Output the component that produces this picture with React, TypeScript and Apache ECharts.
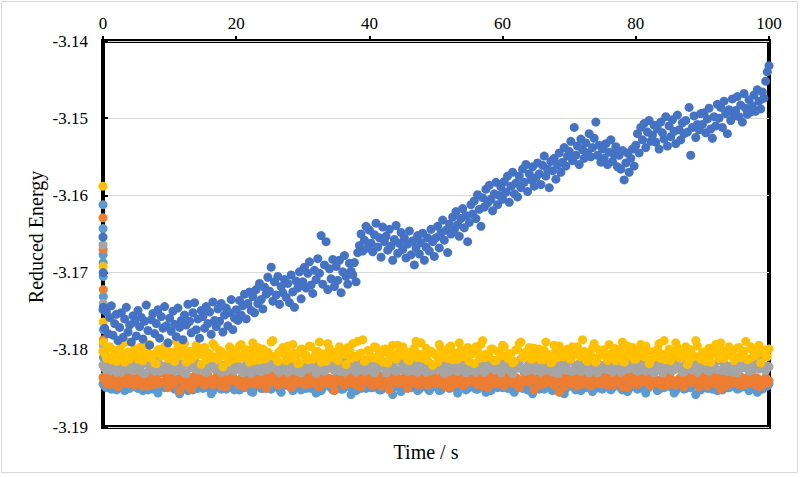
import React, { useEffect, useRef } from "react";
import * as echarts from "echarts";

// Axis ranges and ticks
const timeMin = 0;
const timeMax = 100;
const timeInterval = 20;
const energyMin = -3.19;
const energyMax = -3.14;
const energyInterval = 0.01;

// Sampling of the recorded trajectories
const darkBlueStep = 0.25;
const bandStep = 0.5;
const bandOffsetB = 0.25;

// Fast relaxation right after start (time, energy)
const darkBlueStartTimes = [0, 0.03, 0.06];
const darkBlueStart = [-3.1654, -3.17, -3.1745];
const lightBlueStartTimes = [0, 0.01, 0.02, 0.03, 0.04, 0.05, 0.06, 0.07, 0.08];
const lightBlueStart = [-3.1612, -3.1643, -3.1677, -3.1687, -3.1705, -3.1731, -3.1774, -3.181, -3.1835];
const orangeStartTimes = [0, 0.02, 0.04, 0.06, 0.08];
const orangeStart = [-3.1629, -3.167, -3.1722, -3.1787, -3.182];
const grayStartTimes = [0, 0.03, 0.06];
const grayStart = [-3.1664, -3.174, -3.1795];
const yellowStartTimes = [0, 0.02, 0.04, 0.06];
const yellowStart = [-3.1588, -3.1692, -3.1764, -3.179];

// Drifting run
const darkBlue = [
  -3.1748, -3.1772, -3.1751, -3.1779, -3.1758, -3.1743, -3.1781, -3.1766, -3.1754, -3.1788,
  -3.1771, -3.1752, -3.1784, -3.176, -3.1745, -3.1777, -3.1768, -3.179, -3.1756, -3.1764,
  -3.1782, -3.1749, -3.177, -3.1758, -3.1786, -3.1763, -3.1742, -3.1775, -3.1794, -3.1761,
  -3.1753, -3.1779, -3.1766, -3.1748, -3.1785, -3.1757, -3.1772, -3.1744, -3.1769, -3.1791,
  -3.1759, -3.1776, -3.175, -3.1767, -3.1783, -3.1746, -3.1771, -3.1762, -3.1787, -3.1755,
  -3.1768, -3.1741, -3.1763, -3.1778, -3.1752, -3.1739, -3.1774, -3.176, -3.1785, -3.1749,
  -3.1757, -3.1772, -3.1744, -3.1766, -3.1751, -3.178, -3.1738, -3.1762, -3.177, -3.1747,
  -3.1763, -3.174, -3.1777, -3.1755, -3.1746, -3.1769, -3.1752, -3.1735, -3.1774, -3.1759,
  -3.1748, -3.1762, -3.1736, -3.1755, -3.1743, -3.1728, -3.176, -3.174, -3.1725, -3.1749,
  -3.1731, -3.1752, -3.1722, -3.174, -3.1714, -3.1735, -3.1747, -3.1719, -3.1728, -3.1706,
  -3.1724, -3.1693, -3.1737, -3.1712, -3.1729, -3.1705, -3.1741, -3.1718, -3.1726, -3.1709,
  -3.1732, -3.1714, -3.1739, -3.1703, -3.1725, -3.1745, -3.1711, -3.172, -3.1699, -3.1734,
  -3.1712, -3.1693, -3.172, -3.1701, -3.1686, -3.1716, -3.1727, -3.1697, -3.1709, -3.1682,
  -3.1701, -3.1652, -3.1715, -3.169, -3.166, -3.1722, -3.1695, -3.1708, -3.1683, -3.1718,
  -3.1692, -3.171, -3.1684, -3.1726, -3.1699, -3.1678, -3.1705, -3.1715, -3.1688, -3.1698,
  -3.1703, -3.1687, -3.1712, -3.1674, -3.1665, -3.165, -3.1672, -3.1658, -3.164, -3.1668,
  -3.1645, -3.1662, -3.1673, -3.1651, -3.1636, -3.1667, -3.1655, -3.168, -3.1641, -3.166,
  -3.1653, -3.1671, -3.1644, -3.1666, -3.1684, -3.1657, -3.1639, -3.1675, -3.1662, -3.1648,
  -3.167, -3.1655, -3.1681, -3.1663, -3.1646, -3.1677, -3.1659, -3.169, -3.1668, -3.1652,
  -3.1676, -3.1661, -3.1649, -3.1684, -3.1667, -3.1655, -3.1672, -3.1644, -3.166, -3.1679,
  -3.1655, -3.164, -3.1668, -3.1649, -3.1632, -3.1658, -3.1645, -3.1674, -3.1637, -3.165,
  -3.1628, -3.1645, -3.1621, -3.1638, -3.1653, -3.163, -3.1617, -3.1642, -3.1626, -3.166,
  -3.1635, -3.1612, -3.1624, -3.1607, -3.163, -3.1599, -3.1618, -3.164, -3.1603, -3.1615,
  -3.1592, -3.161, -3.1587, -3.1605, -3.162, -3.1598, -3.1583, -3.1612, -3.16, -3.1589,
  -3.1605, -3.1582, -3.1596, -3.1575, -3.1609, -3.1588, -3.157, -3.1598, -3.1584, -3.1602,
  -3.1575, -3.159, -3.1566, -3.1583, -3.156, -3.1595, -3.1572, -3.158, -3.1563, -3.1588,
  -3.1577, -3.1558, -3.1572, -3.1586, -3.1561, -3.1549, -3.1575, -3.1566, -3.159, -3.1556,
  -3.1568, -3.1552, -3.1579, -3.156, -3.1545, -3.157, -3.1557, -3.1538, -3.1562, -3.1549,
  -3.1543, -3.153, -3.1555, -3.1512, -3.1548, -3.1536, -3.156, -3.1527, -3.1541, -3.1552,
  -3.1532, -3.1545, -3.152, -3.155, -3.1538, -3.1526, -3.1505, -3.1548, -3.1535, -3.1557,
  -3.154, -3.1552, -3.1533, -3.156, -3.1544, -3.1528, -3.1556, -3.1547, -3.1537, -3.1563,
  -3.1548, -3.1566, -3.1542, -3.158, -3.1558, -3.1545, -3.157, -3.1552, -3.154, -3.1562,
  -3.1535, -3.152, -3.1545, -3.1512, -3.1528, -3.1507, -3.1538, -3.1518, -3.1503, -3.153,
  -3.1522, -3.1509, -3.1531, -3.1514, -3.154, -3.1505, -3.1519, -3.1527, -3.1498, -3.1536,
  -3.151, -3.1524, -3.1502, -3.1517, -3.1533, -3.1496, -3.1515, -3.1528, -3.1506, -3.152,
  -3.1503, -3.1518, -3.1486, -3.1548, -3.1512, -3.1497, -3.1525, -3.1508, -3.1515, -3.1494,
  -3.1508, -3.1493, -3.1519, -3.1501, -3.1487, -3.1514, -3.1526, -3.1498, -3.151, -3.1482,
  -3.15, -3.1486, -3.1512, -3.1478, -3.1494, -3.152, -3.1489, -3.1503, -3.1475, -3.1497,
  -3.149, -3.1472, -3.1498, -3.1483, -3.1505, -3.1468, -3.1487, -3.1495, -3.1476, -3.1492,
  -3.1484, -3.147, -3.1491, -3.1463, -3.1478, -3.1488, -3.1466, -3.1474, -3.1452, -3.144,
  -3.1432,
];

// Steady runs: samples on the whole-step grid (A) and the half-step grid (B)
const yellowA = [
  -3.1802, -3.1811, -3.1796, -3.1808, -3.1815, -3.1799, -3.1806, -3.179, -3.1812, -3.1803,
  -3.1809, -3.1797, -3.1814, -3.1801, -3.1793, -3.1807, -3.1818, -3.18, -3.1805, -3.1795,
  -3.1811, -3.1804, -3.1789, -3.1808, -3.1799, -3.1816, -3.1802, -3.181, -3.1794, -3.1806,
  -3.1798, -3.1813, -3.1805, -3.1792, -3.1809, -3.1801, -3.1822, -3.1807, -3.1796, -3.1812,
  -3.1803, -3.1795, -3.181, -3.18, -3.1816, -3.1791, -3.1806, -3.1813, -3.1799, -3.1804,
  -3.1808, -3.1788, -3.1811, -3.1802, -3.1797, -3.1814, -3.1805, -3.1793, -3.1809, -3.1817,
  -3.18, -3.1807, -3.1795, -3.1812, -3.1803, -3.179, -3.1808, -3.1815, -3.1798, -3.1805,
  -3.1811, -3.1796, -3.1804, -3.1819, -3.1801, -3.1792, -3.1809, -3.1806, -3.1787, -3.1813,
  -3.1802, -3.181, -3.1797, -3.1805, -3.1816, -3.1799, -3.1807, -3.1794, -3.1812, -3.1803,
  -3.1796, -3.1809, -3.1814, -3.1801, -3.1789, -3.1806, -3.1811, -3.1798, -3.1804, -3.182,
  -3.1807, -3.1793, -3.181, -3.1802, -3.1797, -3.1813, -3.1805, -3.1791, -3.1808, -3.18,
  -3.1815, -3.1803, -3.1796, -3.1811, -3.1788, -3.1806, -3.1809, -3.1799, -3.1814, -3.1802,
  -3.1794, -3.1808, -3.1805, -3.1817, -3.18, -3.1792, -3.181, -3.1803, -3.1797, -3.1812,
  -3.1806, -3.1799, -3.1813, -3.179, -3.1807, -3.1815, -3.1801, -3.1795, -3.1809, -3.1804,
  -3.1811, -3.1796, -3.1802, -3.1808, -3.1787, -3.1812, -3.1805, -3.1798, -3.1816, -3.18,
  -3.1803, -3.1809, -3.1793, -3.1806, -3.1814, -3.1799, -3.179, -3.181, -3.1804, -3.1797,
  -3.1812, -3.1801, -3.1807, -3.1795, -3.1818, -3.1803, -3.1809, -3.1792, -3.1806, -3.1813,
  -3.1799, -3.1805, -3.1791, -3.181, -3.1802, -3.1796, -3.1814, -3.1807, -3.1788, -3.1809,
  -3.1804, -3.1815, -3.1798, -3.1806, -3.1793, -3.1811, -3.1801, -3.1808, -3.1796, -3.1803,
  -3.181, -3.1797, -3.1805, -3.1789, -3.1812, -3.18, -3.1807, -3.1794, -3.1802, -3.1808,
  -3.1799,
];
const yellowB = [
  -3.1805, -3.1798, -3.1813, -3.1801, -3.1809, -3.1794, -3.1816, -3.1803, -3.1807, -3.1799,
  -3.1812, -3.1804, -3.1791, -3.181, -3.1806, -3.1817, -3.18, -3.1808, -3.1796, -3.1811,
  -3.1803, -3.1815, -3.1798, -3.1806, -3.1792, -3.1809, -3.1812, -3.1801, -3.1807, -3.1819,
  -3.1797, -3.1804, -3.181, -3.1795, -3.1813, -3.1802, -3.1808, -3.1816, -3.1799, -3.1806,
  -3.1811, -3.1793, -3.1805, -3.1809, -3.18, -3.1814, -3.1797, -3.1807, -3.1812, -3.1803,
  -3.179, -3.1808, -3.1815, -3.1801, -3.1806, -3.1795, -3.1811, -3.1804, -3.1818, -3.1799,
  -3.1807, -3.1813, -3.1796, -3.1809, -3.1802, -3.1816, -3.1805, -3.1792, -3.181, -3.1803,
  -3.1814, -3.18, -3.1806, -3.1797, -3.1811, -3.1808, -3.1789, -3.1804, -3.1815, -3.1801,
  -3.1809, -3.1796, -3.1812, -3.1805, -3.1799, -3.1817, -3.1803, -3.181, -3.1794, -3.1807,
  -3.1801, -3.1813, -3.1806, -3.1798, -3.181, -3.1791, -3.1808, -3.1814, -3.1802, -3.1805,
  -3.1816, -3.1799, -3.1807, -3.1811, -3.1795, -3.1804, -3.1812, -3.18, -3.1809, -3.1797,
  -3.1806, -3.1818, -3.1803, -3.1793, -3.181, -3.1807, -3.1799, -3.1814, -3.1802, -3.1808,
  -3.1796, -3.1811, -3.1805, -3.1815, -3.18, -3.179, -3.1809, -3.1804, -3.1812, -3.1798,
  -3.1807, -3.1813, -3.1801, -3.1806, -3.1817, -3.1794, -3.181, -3.1803, -3.1808, -3.1799,
  -3.1812, -3.1805, -3.1796, -3.1809, -3.1802, -3.1815, -3.1807, -3.1792, -3.1811, -3.1804,
  -3.18, -3.1814, -3.1806, -3.1798, -3.181, -3.1803, -3.1816, -3.1795, -3.1808, -3.1812,
  -3.1805, -3.1793, -3.1809, -3.1801, -3.1813, -3.1807, -3.1799, -3.1811, -3.1788, -3.1806,
  -3.1814, -3.1802, -3.1797, -3.181, -3.1805, -3.1819, -3.18, -3.1808, -3.1795, -3.1812,
  -3.1803, -3.1809, -3.1816, -3.1799, -3.1806, -3.1791, -3.1811, -3.1804, -3.1807, -3.1814,
  -3.1798, -3.181, -3.1802, -3.1813, -3.1796, -3.1808, -3.1805, -3.1817, -3.18, -3.1809,
];

const grayA = [
  -3.182, -3.1826, -3.1815, -3.1823, -3.1829, -3.1818, -3.1824, -3.1813, -3.1821, -3.1827,
  -3.1817, -3.1822, -3.183, -3.1816, -3.1825, -3.1819, -3.1812, -3.1828, -3.1821, -3.1824,
  -3.1826, -3.1814, -3.182, -3.1827, -3.1818, -3.1831, -3.1822, -3.1815, -3.1825, -3.1819,
  -3.1823, -3.1829, -3.1817, -3.1821, -3.1813, -3.1826, -3.182, -3.1828, -3.1816, -3.1822,
  -3.1818, -3.1825, -3.183, -3.1819, -3.1823, -3.1814, -3.1827, -3.1821, -3.1811, -3.1826,
  -3.1822, -3.1816, -3.1824, -3.1829, -3.182, -3.1825, -3.1813, -3.1819, -3.1828, -3.1817,
  -3.1827, -3.1821, -3.1815, -3.1823, -3.1831, -3.1818, -3.1822, -3.1826, -3.1814, -3.182,
  -3.1819, -3.1828, -3.1822, -3.1812, -3.1825, -3.182, -3.1829, -3.1816, -3.1823, -3.1827,
  -3.1824, -3.1817, -3.1826, -3.1821, -3.1815, -3.183, -3.1819, -3.1823, -3.1828, -3.1813,
  -3.182, -3.1825, -3.1818, -3.1827, -3.1822, -3.1814, -3.1826, -3.1829, -3.1817, -3.1821,
  -3.1826, -3.1819, -3.1823, -3.1815, -3.1828, -3.1821, -3.1812, -3.1825, -3.182, -3.183,
  -3.1818, -3.1824, -3.1829, -3.182, -3.1816, -3.1827, -3.1822, -3.1819, -3.1825, -3.1814,
  -3.1823, -3.1817, -3.1826, -3.1831, -3.1821, -3.1815, -3.1824, -3.1828, -3.1818, -3.1822,
  -3.1827, -3.182, -3.1813, -3.1825, -3.1819, -3.1829, -3.1823, -3.1816, -3.1826, -3.1821,
  -3.1815, -3.1828, -3.1822, -3.1818, -3.1826, -3.182, -3.183, -3.1824, -3.1817, -3.1823,
  -3.1821, -3.1825, -3.1816, -3.1829, -3.1822, -3.1812, -3.1827, -3.182, -3.1824, -3.1818,
  -3.1826, -3.1819, -3.1823, -3.1828, -3.1815, -3.1822, -3.1825, -3.1817, -3.183, -3.1821,
  -3.182, -3.1827, -3.1814, -3.1824, -3.1829, -3.1818, -3.1822, -3.1826, -3.1819, -3.1825,
  -3.1823, -3.1816, -3.1828, -3.1821, -3.1825, -3.1813, -3.1827, -3.182, -3.1824, -3.1829,
  -3.1818, -3.1826, -3.1822, -3.1815, -3.1828, -3.1823, -3.1819, -3.1825, -3.1821, -3.1827,
  -3.1822,
];
const grayB = [
  -3.1824, -3.1819, -3.1827, -3.1815, -3.1822, -3.1829, -3.1818, -3.1825, -3.1821, -3.1813,
  -3.1826, -3.182, -3.1831, -3.1817, -3.1823, -3.1828, -3.1814, -3.1822, -3.1826, -3.1819,
  -3.1821, -3.1827, -3.1816, -3.1824, -3.183, -3.1818, -3.1823, -3.1812, -3.1826, -3.182,
  -3.1828, -3.1815, -3.1822, -3.1825, -3.1819, -3.1829, -3.1821, -3.1817, -3.1824, -3.1827,
  -3.1813, -3.1823, -3.1826, -3.182, -3.1831, -3.1816, -3.1822, -3.1828, -3.1818, -3.1825,
  -3.1821, -3.1814, -3.1827, -3.1823, -3.1819, -3.1829, -3.1824, -3.1816, -3.1822, -3.183,
  -3.1818, -3.1825, -3.1821, -3.1812, -3.1826, -3.182, -3.1828, -3.1817, -3.1823, -3.1827,
  -3.1822, -3.1815, -3.1829, -3.1824, -3.1819, -3.1826, -3.1813, -3.1821, -3.1828, -3.1818,
  -3.1825, -3.183, -3.182, -3.1816, -3.1823, -3.1827, -3.1819, -3.1824, -3.1814, -3.1826,
  -3.1821, -3.1828, -3.1817, -3.1822, -3.1829, -3.1815, -3.1825, -3.182, -3.1827, -3.1823,
  -3.1818, -3.1826, -3.1831, -3.1821, -3.1814, -3.1824, -3.1828, -3.1819, -3.1822, -3.1816,
  -3.1827, -3.182, -3.1825, -3.1813, -3.1829, -3.1823, -3.1818, -3.1826, -3.1821, -3.183,
  -3.1815, -3.1822, -3.1827, -3.1819, -3.1824, -3.1812, -3.1828, -3.1821, -3.1825, -3.1817,
  -3.1823, -3.1829, -3.1816, -3.1826, -3.182, -3.1824, -3.1831, -3.1818, -3.1822, -3.1827,
  -3.1814, -3.1825, -3.1821, -3.1828, -3.1819, -3.1823, -3.1815, -3.1826, -3.183, -3.182,
  -3.1824, -3.1817, -3.1827, -3.1822, -3.1813, -3.1829, -3.1821, -3.1825, -3.1818, -3.1823,
  -3.1828, -3.182, -3.1816, -3.1826, -3.1822, -3.183, -3.1819, -3.1824, -3.1827, -3.1815,
  -3.1821, -3.1826, -3.1813, -3.1823, -3.1828, -3.1818, -3.1825, -3.182, -3.1829, -3.1822,
  -3.1817, -3.1827, -3.1824, -3.1819, -3.1826, -3.1814, -3.1822, -3.1828, -3.1821, -3.1825,
  -3.183, -3.1818, -3.1823, -3.1816, -3.1827, -3.182, -3.1825, -3.1812, -3.1824, -3.1821,
];

const orangeA = [
  -3.1836, -3.1843, -3.1831, -3.184, -3.1846, -3.1834, -3.1839, -3.1829, -3.1844, -3.1837,
  -3.1841, -3.1833, -3.1847, -3.1838, -3.1832, -3.1845, -3.1836, -3.1842, -3.183, -3.184,
  -3.1835, -3.1844, -3.1839, -3.1853, -3.1833, -3.1841, -3.1837, -3.1846, -3.1834, -3.1839,
  -3.1843, -3.183, -3.1838, -3.1845, -3.1836, -3.1842, -3.1832, -3.1848, -3.1837, -3.1835,
  -3.184, -3.1846, -3.1834, -3.1839, -3.1831, -3.1844, -3.1838, -3.1835, -3.1842, -3.185,
  -3.1833, -3.1841, -3.1837, -3.1845, -3.183, -3.1839, -3.1847, -3.1836, -3.1843, -3.1834,
  -3.1838, -3.1832, -3.1844, -3.184, -3.1835, -3.1848, -3.1833, -3.1841, -3.1837, -3.1845,
  -3.1842, -3.1836, -3.1831, -3.1843, -3.1839, -3.1834, -3.1846, -3.1838, -3.1829, -3.1841,
  -3.1835, -3.1847, -3.184, -3.1833, -3.1844, -3.1837, -3.1852, -3.1839, -3.1832, -3.1843,
  -3.1838, -3.1834, -3.1845, -3.1841, -3.183, -3.1846, -3.1836, -3.1842, -3.1839, -3.1833,
  -3.1844, -3.1837, -3.1832, -3.1848, -3.184, -3.1835, -3.1843, -3.1831, -3.1846, -3.1838,
  -3.1836, -3.1842, -3.1839, -3.1833, -3.1847, -3.1841, -3.1834, -3.1844, -3.1837, -3.183,
  -3.1845, -3.1838, -3.1831, -3.1843, -3.1836, -3.1849, -3.184, -3.1835, -3.1842, -3.1839,
  -3.1833, -3.1846, -3.1841, -3.1837, -3.1832, -3.1844, -3.1838, -3.1855, -3.184, -3.1834,
  -3.1839, -3.1835, -3.1847, -3.1842, -3.1836, -3.183, -3.1845, -3.1838, -3.1843, -3.1837,
  -3.1841, -3.1833, -3.1838, -3.1846, -3.1834, -3.184, -3.1848, -3.1836, -3.1831, -3.1844,
  -3.1837, -3.1843, -3.1835, -3.184, -3.1845, -3.1832, -3.1839, -3.1842, -3.1847, -3.1836,
  -3.1834, -3.184, -3.1846, -3.1838, -3.1831, -3.1843, -3.1837, -3.1841, -3.1835, -3.1848,
  -3.1842, -3.1836, -3.1839, -3.1833, -3.1844, -3.184, -3.183, -3.1847, -3.1838, -3.1841,
  -3.1835, -3.1845, -3.184, -3.1837, -3.1842, -3.1834, -3.1846, -3.1839, -3.1843, -3.1836,
  -3.184,
];
const orangeB = [
  -3.1839, -3.1845, -3.1834, -3.1841, -3.1848, -3.1836, -3.1843, -3.1831, -3.184, -3.1846,
  -3.1837, -3.1842, -3.1833, -3.1847, -3.1839, -3.1835, -3.1844, -3.183, -3.1841, -3.1849,
  -3.1836, -3.1843, -3.1838, -3.1832, -3.1845, -3.184, -3.1851, -3.1834, -3.1842, -3.1837,
  -3.1846, -3.1833, -3.1839, -3.1844, -3.1831, -3.1847, -3.1838, -3.1842, -3.1835, -3.184,
  -3.1843, -3.1837, -3.1848, -3.1834, -3.1841, -3.183, -3.1845, -3.1839, -3.1836, -3.1844,
  -3.184, -3.1832, -3.1846, -3.1838, -3.1843, -3.1835, -3.1849, -3.1841, -3.1833, -3.1839,
  -3.1845, -3.1837, -3.1842, -3.183, -3.1847, -3.184, -3.1835, -3.1844, -3.1838, -3.1853,
  -3.1834, -3.1841, -3.1846, -3.1836, -3.1843, -3.1839, -3.1832, -3.1848, -3.184, -3.1837,
  -3.1844, -3.1831, -3.1842, -3.1847, -3.1835, -3.184, -3.1845, -3.1833, -3.1839, -3.1843,
  -3.1836, -3.185, -3.1838, -3.1834, -3.1845, -3.1841, -3.183, -3.1846, -3.1837, -3.1842,
  -3.1839, -3.1844, -3.1832, -3.184, -3.1848, -3.1835, -3.1843, -3.1838, -3.1846, -3.1833,
  -3.1841, -3.1837, -3.1845, -3.1831, -3.1842, -3.1849, -3.1836, -3.184, -3.1844, -3.1834,
  -3.1847, -3.1839, -3.1833, -3.1843, -3.1838, -3.1845, -3.183, -3.1841, -3.1836, -3.1852,
  -3.184, -3.1835, -3.1844, -3.1839, -3.1832, -3.1846, -3.1842, -3.1837, -3.1848, -3.1834,
  -3.1843, -3.1838, -3.1831, -3.1845, -3.184, -3.1836, -3.1847, -3.1841, -3.1833, -3.1844,
  -3.1839, -3.1846, -3.1835, -3.1842, -3.183, -3.1843, -3.1837, -3.1849, -3.184, -3.1834,
  -3.1845, -3.1832, -3.1841, -3.1838, -3.1847, -3.1836, -3.1843, -3.1839, -3.1831, -3.1846,
  -3.1837, -3.1844, -3.184, -3.1835, -3.1848, -3.1833, -3.1842, -3.1838, -3.1845, -3.1841,
  -3.1834, -3.1847, -3.1839, -3.1843, -3.1836, -3.1851, -3.184, -3.1832, -3.1844, -3.1838,
  -3.1842, -3.1835, -3.1846, -3.184, -3.1833, -3.1844, -3.1837, -3.1848, -3.1839, -3.1843,
];

const lightBlueA = [
  -3.1844, -3.1849, -3.184, -3.1846, -3.1852, -3.1842, -3.1847, -3.1839, -3.185, -3.1845,
  -3.1848, -3.1841, -3.1853, -3.1845, -3.1838, -3.1851, -3.1843, -3.1849, -3.1846, -3.184,
  -3.1847, -3.1843, -3.185, -3.1857, -3.1844, -3.1848, -3.1841, -3.1852, -3.1845, -3.1839,
  -3.185, -3.1842, -3.1846, -3.1853, -3.184, -3.1847, -3.1844, -3.1851, -3.1838, -3.1849,
  -3.1843, -3.1852, -3.1845, -3.1841, -3.1848, -3.1855, -3.1842, -3.1846, -3.185, -3.1844,
  -3.1849, -3.184, -3.1847, -3.1851, -3.1843, -3.1846, -3.1839, -3.1853, -3.1845, -3.1848,
  -3.1842, -3.185, -3.1844, -3.1847, -3.1856, -3.1841, -3.1849, -3.1845, -3.184, -3.1852,
  -3.1846, -3.1843, -3.1851, -3.1839, -3.1848, -3.1845, -3.1853, -3.1842, -3.1847, -3.185,
  -3.1841, -3.1849, -3.1844, -3.1852, -3.1846, -3.184, -3.1848, -3.1858, -3.1843, -3.1847,
  -3.185, -3.1845, -3.1839, -3.1848, -3.1842, -3.1851, -3.1846, -3.1844, -3.1853, -3.1841,
  -3.1847, -3.1853, -3.1843, -3.1845, -3.185, -3.1838, -3.1849, -3.1844, -3.1846, -3.1852,
  -3.184, -3.1848, -3.1851, -3.1843, -3.1847, -3.1855, -3.1842, -3.1849, -3.1845, -3.1841,
  -3.1849, -3.1844, -3.184, -3.1852, -3.1846, -3.1843, -3.185, -3.1839, -3.1848, -3.1857,
  -3.1845, -3.1851, -3.1847, -3.1842, -3.1849, -3.1853, -3.1841, -3.1846, -3.1844, -3.185,
  -3.1843, -3.1847, -3.1852, -3.184, -3.1845, -3.1849, -3.1846, -3.1854, -3.1842, -3.1848,
  -3.1851, -3.1841, -3.1846, -3.1849, -3.1839, -3.1847, -3.1852, -3.1844, -3.185, -3.1843,
  -3.1846, -3.185, -3.1842, -3.1856, -3.1848, -3.1844, -3.184, -3.1851, -3.1847, -3.1845,
  -3.1842, -3.1849, -3.1853, -3.1845, -3.1841, -3.185, -3.1847, -3.1843, -3.1858, -3.1846,
  -3.1848, -3.1843, -3.1847, -3.1851, -3.1844, -3.184, -3.1852, -3.1846, -3.1849, -3.1842,
  -3.1845, -3.185, -3.1841, -3.1847, -3.1853, -3.1844, -3.1848, -3.1839, -3.1851, -3.1846,
  -3.1844,
];
const lightBlueB = [
  -3.1847, -3.1842, -3.1851, -3.1845, -3.184, -3.1849, -3.1853, -3.1844, -3.1848, -3.1841,
  -3.185, -3.1846, -3.1839, -3.1852, -3.1847, -3.1843, -3.1856, -3.1845, -3.1849, -3.1842,
  -3.1848, -3.1851, -3.1844, -3.184, -3.1847, -3.1853, -3.1846, -3.1841, -3.185, -3.1845,
  -3.1843, -3.1849, -3.1857, -3.1846, -3.1842, -3.1851, -3.1848, -3.184, -3.1847, -3.1852,
  -3.1845, -3.1841, -3.1849, -3.1844, -3.1854, -3.1847, -3.1839, -3.185, -3.1846, -3.1843,
  -3.1851, -3.1848, -3.1842, -3.1855, -3.1845, -3.184, -3.1849, -3.1847, -3.1844, -3.1852,
  -3.1846, -3.1841, -3.185, -3.1843, -3.1848, -3.1853, -3.1845, -3.1839, -3.1849, -3.1846,
  -3.1842, -3.1851, -3.1847, -3.1844, -3.1858, -3.1848, -3.1841, -3.185, -3.1845, -3.1843,
  -3.1849, -3.1846, -3.184, -3.1852, -3.1847, -3.1844, -3.1851, -3.1842, -3.1848, -3.1854,
  -3.1845, -3.1841, -3.1849, -3.1846, -3.1853, -3.1843, -3.1847, -3.185, -3.1839, -3.1848,
  -3.1844, -3.1852, -3.1846, -3.1842, -3.1849, -3.1845, -3.1856, -3.1847, -3.1841, -3.185,
  -3.1848, -3.1843, -3.1851, -3.1845, -3.184, -3.1847, -3.1853, -3.1844, -3.1849, -3.1846,
  -3.1842, -3.185, -3.1845, -3.1855, -3.1848, -3.1841, -3.1847, -3.1852, -3.1844, -3.1849,
  -3.1846, -3.1843, -3.1851, -3.1839, -3.1848, -3.1845, -3.185, -3.1842, -3.1857, -3.1847,
  -3.1844, -3.1849, -3.1846, -3.1853, -3.1841, -3.1848, -3.1845, -3.1851, -3.1843, -3.185,
  -3.1847, -3.1842, -3.1852, -3.1846, -3.184, -3.1849, -3.1844, -3.1854, -3.1848, -3.1845,
  -3.1851, -3.1843, -3.1847, -3.185, -3.1846, -3.1841, -3.1853, -3.1845, -3.1849, -3.1842,
  -3.1848, -3.1856, -3.1844, -3.1847, -3.1851, -3.184, -3.1849, -3.1846, -3.1843, -3.1852,
  -3.1845, -3.185, -3.1842, -3.1848, -3.1853, -3.1846, -3.1841, -3.1849, -3.1847, -3.1844,
  -3.1851, -3.1845, -3.1848, -3.1843, -3.185, -3.1846, -3.1855, -3.1842, -3.1849, -3.1847,
];

const colors = {
  darkBlue: "#4472C4",
  lightBlue: "#5B9BD5",
  orange: "#ED7D31",
  gray: "#A5A5A5",
  yellow: "#FFC000",
};

const serif = "Liberation Serif";

type Run = { values: number[]; step: number; offset: number };

function buildPoints(startTimes: number[], start: number[], runs: Run[]) {
  const pts: number[][] = startTimes.map((t, i) => [t, start[i]]);
  runs.forEach((run) => {
    run.values.forEach((v, i) => pts.push([run.offset + i * run.step, v]));
  });
  return pts;
}

function scatter(name: string, color: string, data: number[][]) {
  return {
    name,
    type: "scatter",
    data,
    symbol: "circle",
    symbolSize: 9,
    itemStyle: { color, opacity: 1 },
    emphasis: { disabled: true },
  };
}

export default function App() {
  const ref = useRef<HTMLDivElement>(null);

  useEffect(() => {
    if (!ref.current) return;
    const chart = echarts.init(ref.current, undefined, { renderer: "svg" });
    const band = (a: number[], b: number[]): Run[] => [
      { values: a, step: bandStep, offset: 0 },
      { values: b, step: bandStep, offset: bandOffsetB },
    ];
    chart.setOption({
      animation: false,
      backgroundColor: "#ffffff",
      textStyle: { fontFamily: serif },
      grid: {
        left: 103,
        right: 31,
        top: 41,
        bottom: 50,
        show: true,
        borderColor: "#000000",
        borderWidth: 4,
        backgroundColor: "transparent",
      },
      xAxis: {
        type: "value",
        position: "top",
        min: timeMin,
        max: timeMax,
        interval: timeInterval,
        axisLine: { show: false },
        axisTick: { show: true, inside: false, length: 5, lineStyle: { color: "#000", width: 2 } },
        axisLabel: { color: "#000", fontFamily: serif, fontSize: 17, margin: 9 },
        splitLine: { show: false },
      },
      yAxis: {
        type: "value",
        min: energyMin,
        max: energyMax,
        interval: energyInterval,
        axisLine: { show: false },
        axisTick: { show: true, inside: true, length: 5, lineStyle: { color: "#000", width: 2 } },
        axisLabel: {
          color: "#000",
          fontFamily: serif,
          fontSize: 17,
          margin: 15,
          formatter: (v: number) => v.toFixed(2),
        },
        splitLine: { show: true, lineStyle: { color: "#d9d9d9", width: 1 } },
      },
      series: [
        scatter("lightBlue", colors.lightBlue, buildPoints(lightBlueStartTimes, lightBlueStart, band(lightBlueA, lightBlueB))),
        scatter("orange", colors.orange, buildPoints(orangeStartTimes, orangeStart, band(orangeA, orangeB))),
        scatter("gray", colors.gray, buildPoints(grayStartTimes, grayStart, band(grayA, grayB))),
        scatter("yellow", colors.yellow, buildPoints(yellowStartTimes, yellowStart, band(yellowA, yellowB))),
        scatter(
          "darkBlue",
          colors.darkBlue,
          buildPoints(darkBlueStartTimes, darkBlueStart, [{ values: darkBlue, step: darkBlueStep, offset: 0 }])
        ),
      ],
      graphic: [
        {
          type: "rect",
          silent: true,
          shape: { x: 1.5, y: 1.5, width: 796, height: 471 },
          style: { fill: "none", stroke: "#d9d9d9", lineWidth: 1 },
        },
        {
          type: "text",
          x: 426,
          y: 452,
          style: {
            text: "Time / s",
            font: "20px Liberation Serif",
            fill: "#000",
            textAlign: "center",
            textVerticalAlign: "middle",
            align: "center",
            verticalAlign: "middle",
          },
        },
        {
          type: "text",
          x: 36,
          y: 237,
          rotation: Math.PI / 2,
          style: {
            text: "Reduced Energy",
            font: "20px Liberation Serif",
            fill: "#000",
            textAlign: "center",
            textVerticalAlign: "middle",
            align: "center",
            verticalAlign: "middle",
          },
        },
      ],
    });
    return () => chart.dispose();
  }, []);

  return (
    <div
      ref={ref}
      style={{ position: "fixed", left: 0, top: 0, width: 800, height: 477, background: "#fff" }}
    />
  );
}
